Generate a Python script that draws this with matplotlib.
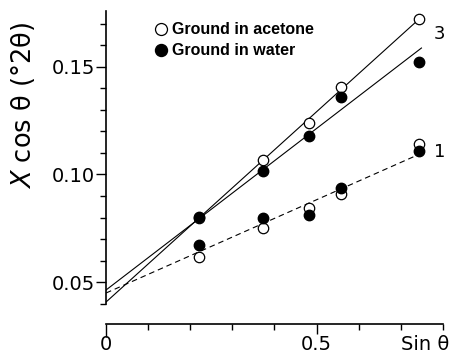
import matplotlib
matplotlib.use("Agg")
import matplotlib.pyplot as plt
from matplotlib.ticker import MultipleLocator

# sin(theta) of the measured reflections
sin_theta = [0.220, 0.372, 0.481, 0.559, 0.742]

# series "3" (upper pair)
acetone_3 = [0.0800, 0.1067, 0.1240, 0.1407, 0.1723]
water_3 = [0.0802, 0.1016, 0.1180, 0.1360, 0.1523]
# series "1" (lower pair)
acetone_1 = [0.0616, 0.0751, 0.0844, 0.0910, 0.1142]
water_1 = [0.0670, 0.0800, 0.0812, 0.0937, 0.1110]

# fitted straight lines: (x start, x end), (y start, y end)
fit_acetone_x = [0.0, 0.742]
fit_acetone_y = [0.0407, 0.1720]
fit_water_x = [0.0, 0.749]
fit_water_y = [0.0463, 0.1588]
fit_1_x = [0.0, 0.739]
fit_1_y = [0.0449, 0.1090]

x_ticks = [0, 0.5, 0.757]
x_ticklabels = ["0", "0.5", "Sin θ"]
y_ticks = [0.05, 0.10, 0.15]
y_ticklabels = ["0.05", "0.10", "0.15"]

plt.rcParams['font.family'] = ['DejaVu Sans']

fig = plt.figure(figsize=(4.59, 3.61), dpi=100)
ax = fig.add_axes([0.231, 0.1025, 0.734, 0.867])

ax.plot(fit_acetone_x, fit_acetone_y, color='k', lw=0.8)
ax.plot(fit_water_x, fit_water_y, color='k', lw=0.8)
ax.plot(fit_1_x, fit_1_y, color='k', lw=0.8, dashes=(5, 3.5))

ms = 7.5
ax.plot(sin_theta, acetone_3, 'o', mfc='white', mec='k', mew=0.9, ms=ms,
        label="Ground in acetone", clip_on=False)
ax.plot(sin_theta, water_3, 'o', mfc='k', mec='k', ms=ms,
        label="Ground in water", clip_on=False)
ax.plot(sin_theta, acetone_1, 'o', mfc='white', mec='k', mew=0.9, ms=ms, clip_on=False)
ax.plot(sin_theta, water_1, 'o', mfc='k', mec='k', ms=ms, clip_on=False)

ax.text(0.792, 0.1655, "3", fontsize=13, ha='center', va='center')
ax.text(0.792, 0.1105, "1", fontsize=13, ha='center', va='center')

ax.set_xlim(0, 0.8)
ax.set_ylim(0.0305, 0.176)

for s in ['top', 'right']:
    ax.spines[s].set_visible(False)
ax.spines['left'].set_bounds(0.04, 0.176)
ax.spines['bottom'].set_bounds(0, 0.8)
ax.spines['left'].set_linewidth(1.2)
ax.spines['bottom'].set_linewidth(1.2)

ax.set_yticks(y_ticks)
ax.set_yticklabels(y_ticklabels)
ax.yaxis.set_minor_locator(MultipleLocator(0.01))
ax.set_xticks(x_ticks)
ax.set_xticklabels(x_ticklabels)
ax.set_xticks([0.1, 0.2, 0.3, 0.4, 0.6, 0.7, 0.8], minor=True)

ax.tick_params(axis='y', which='major', direction='out', length=7, width=1, labelsize=14, pad=1)
ax.tick_params(axis='y', which='minor', direction='out', length=4, width=1)
ax.tick_params(axis='x', which='major', direction='out', length=0, labelsize=14, pad=8)
ax.tick_params(axis='x', which='minor', direction='out', length=4, width=1)

# longer downward marks at 0 and 0.5
for xv, ln in [(0, 9), (0.5, 7)]:
    ax.plot([xv], [0.0305], marker=3, ms=ln, mew=1, color='k', clip_on=False)

ax.set_ylabel("$\\mathit{X}$ cos θ (°2θ)", fontsize=18.5)
ax.yaxis.set_label_coords(-0.205, 0.70)

leg = ax.legend(loc='upper left', bbox_to_anchor=(0.12, 0.985), frameon=False,
                handletextpad=0.2, labelspacing=0.4, handlelength=1.0,
                markerscale=1.15, borderaxespad=0,
                prop={'family': ['Liberation Sans', 'DejaVu Sans'],
                      'weight': 'bold', 'size': 11.5})

fig.savefig("out.png", dpi=100)
